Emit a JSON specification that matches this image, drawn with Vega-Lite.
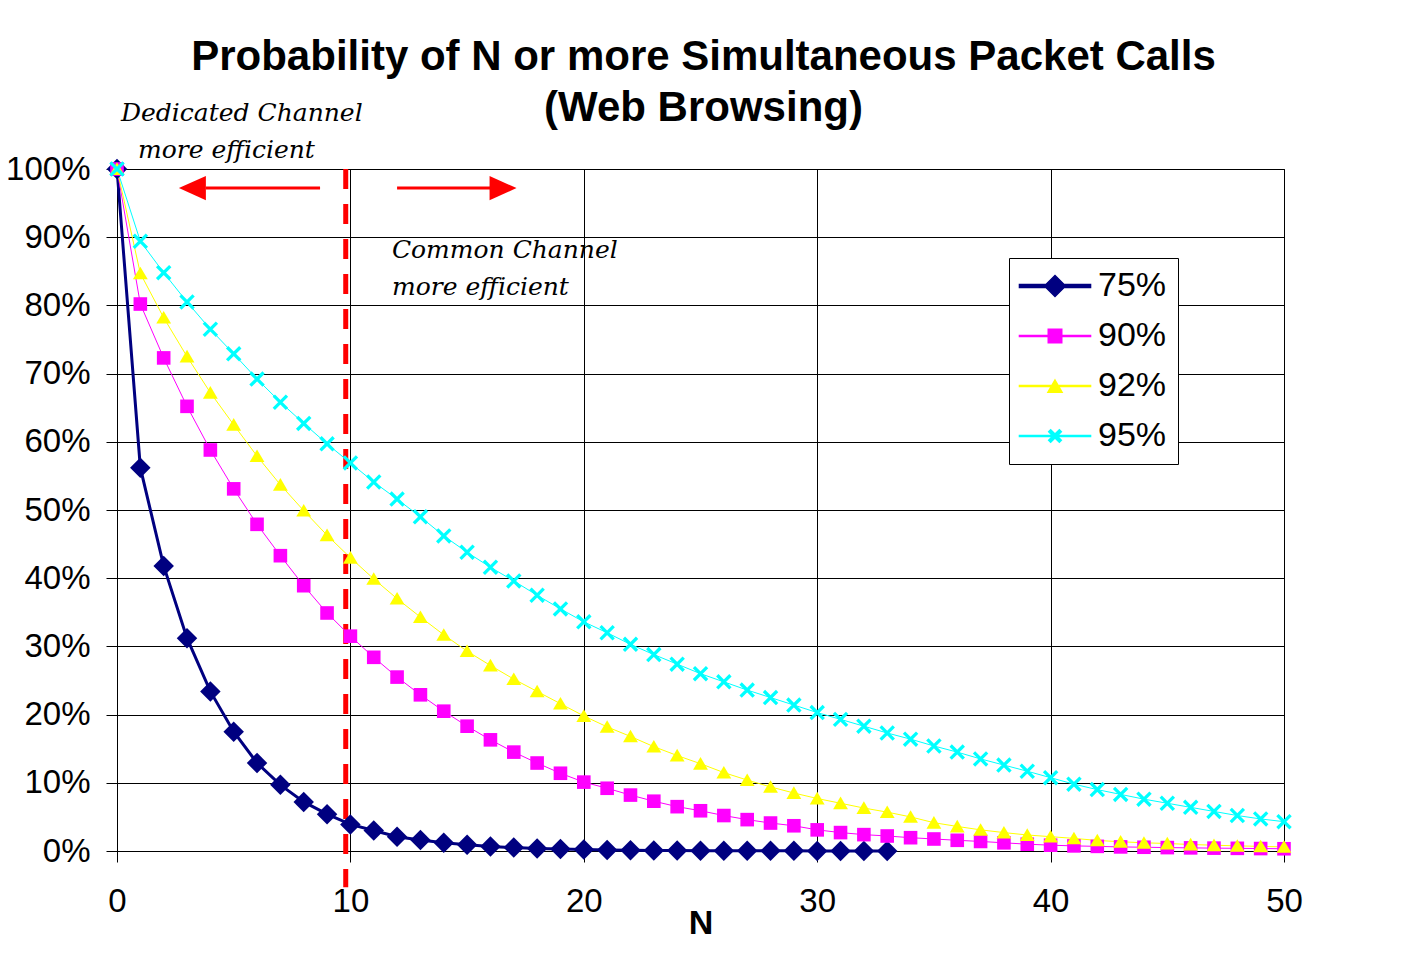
{
  "$schema": "https://vega.github.io/schema/vega-lite/v6.json",
  "width": 1167,
  "height": 682,
  "padding": {"left": 5, "top": 35, "right": 5, "bottom": 5},
  "background": "white",
  "title": {
    "text": ["Probability of N or more Simultaneous Packet Calls", "(Web Browsing)"],
    "font": "Liberation Sans", "fontSize": 42, "fontWeight": "bold", "lineHeight": 51,
    "anchor": "middle", "frame": "group", "offset": -29, "color": "black", "dx": 3
  },
  "config": {
    "view": {"stroke": "black", "strokeWidth": 1},
    "axis": {
      "domainColor": "black", "tickColor": "black", "gridColor": "black", "gridOpacity": 1,
      "labelColor": "black", "labelFont": "Liberation Sans", "titleFont": "Liberation Sans", "titleColor": "black"
    }
  },
  "datasets": {
    "curves": [
      {"N":0,"75%":100,"90%":100,"92%":100,"95%":100},
      {"N":1,"75%":56.2,"90%":80.2,"92%":84.7,"95%":89.4},
      {"N":2,"75%":41.8,"90%":72.3,"92%":78.2,"95%":84.8},
      {"N":3,"75%":31.2,"90%":65.2,"92%":72.5,"95%":80.5},
      {"N":4,"75%":23.4,"90%":58.8,"92%":67.2,"95%":76.5},
      {"N":5,"75%":17.5,"90%":53.1,"92%":62.5,"95%":72.9},
      {"N":6,"75%":12.9,"90%":47.9,"92%":57.9,"95%":69.2},
      {"N":7,"75%":9.7,"90%":43.3,"92%":53.7,"95%":65.8},
      {"N":8,"75%":7.2,"90%":38.9,"92%":49.9,"95%":62.7},
      {"N":9,"75%":5.4,"90%":34.9,"92%":46.3,"95%":59.7},
      {"N":10,"75%":3.9,"90%":31.5,"92%":43.0,"95%":56.9},
      {"N":11,"75%":3.0,"90%":28.4,"92%":39.9,"95%":54.1},
      {"N":12,"75%":2.1,"90%":25.5,"92%":37.0,"95%":51.6},
      {"N":13,"75%":1.6,"90%":22.9,"92%":34.3,"95%":49.0},
      {"N":14,"75%":1.2,"90%":20.5,"92%":31.7,"95%":46.2},
      {"N":15,"75%":0.9,"90%":18.3,"92%":29.3,"95%":43.8},
      {"N":16,"75%":0.65,"90%":16.3,"92%":27.2,"95%":41.6},
      {"N":17,"75%":0.5,"90%":14.5,"92%":25.2,"95%":39.6},
      {"N":18,"75%":0.38,"90%":12.9,"92%":23.4,"95%":37.5},
      {"N":19,"75%":0.28,"90%":11.4,"92%":21.6,"95%":35.5},
      {"N":20,"75%":0.21,"90%":10.1,"92%":19.8,"95%":33.6},
      {"N":21,"75%":0.16,"90%":9.2,"92%":18.2,"95%":32.0},
      {"N":22,"75%":0.12,"90%":8.2,"92%":16.8,"95%":30.3},
      {"N":23,"75%":0.09,"90%":7.3,"92%":15.3,"95%":28.8},
      {"N":24,"75%":0.07,"90%":6.5,"92%":14.0,"95%":27.4},
      {"N":25,"75%":0.05,"90%":5.9,"92%":12.8,"95%":26.0},
      {"N":26,"75%":0.04,"90%":5.2,"92%":11.5,"95%":24.8},
      {"N":27,"75%":0.03,"90%":4.6,"92%":10.4,"95%":23.6},
      {"N":28,"75%":0.02,"90%":4.1,"92%":9.4,"95%":22.5},
      {"N":29,"75%":0.02,"90%":3.7,"92%":8.5,"95%":21.4},
      {"N":30,"75%":0.01,"90%":3.1,"92%":7.7,"95%":20.3},
      {"N":31,"75%":0.01,"90%":2.7,"92%":7.0,"95%":19.3},
      {"N":32,"75%":0.01,"90%":2.4,"92%":6.3,"95%":18.3},
      {"N":33,"75%":0.0,"90%":2.2,"92%":5.7,"95%":17.3},
      {"N":34,"90%":1.95,"92%":5.0,"95%":16.4},
      {"N":35,"90%":1.76,"92%":4.15,"95%":15.4},
      {"N":36,"90%":1.57,"92%":3.6,"95%":14.5},
      {"N":37,"90%":1.4,"92%":3.1,"95%":13.5},
      {"N":38,"90%":1.2,"92%":2.7,"95%":12.6},
      {"N":39,"90%":1.0,"92%":2.35,"95%":11.7},
      {"N":40,"90%":0.85,"92%":2.1,"95%":10.75},
      {"N":41,"90%":0.75,"92%":1.85,"95%":9.8},
      {"N":42,"90%":0.68,"92%":1.55,"95%":9.0},
      {"N":43,"90%":0.6,"92%":1.36,"95%":8.3},
      {"N":44,"90%":0.55,"92%":1.2,"95%":7.6},
      {"N":45,"90%":0.5,"92%":1.1,"95%":7.0},
      {"N":46,"90%":0.46,"92%":0.95,"95%":6.4},
      {"N":47,"90%":0.42,"92%":0.85,"95%":5.8},
      {"N":48,"90%":0.39,"92%":0.75,"95%":5.2},
      {"N":49,"90%":0.36,"92%":0.68,"95%":4.7},
      {"N":50,"90%":0.33,"92%":0.6,"95%":4.3}
    ],
    "divider": [{"N": 9.8, "value": 100, "value2": -5.3}],
    "shafts": [{"N": 3.8, "N2": 8.7, "value": 97.2}, {"N": 12.0, "N2": 16.0, "value": 97.2}],
    "headLeft": [{"N": 3.23, "value": 97.2}],
    "headRight": [{"N": 16.54, "value": 97.2}],
    "notes": [
      {"N": 0.17, "value": 107.04, "label": "Dedicated Channel"},
      {"N": 0.9, "value": 101.61, "label": "more efficient"},
      {"N": 11.78, "value": 86.95, "label": "Common Channel"},
      {"N": 11.78, "value": 81.52, "label": "more efficient"}
    ]
  },
  "layer": [
    {
      "data": {"name": "divider"},
      "mark": {"type": "rule", "color": "#ff0000", "strokeWidth": 5, "strokeDash": [20, 15]},
      "encoding": {
        "x": {"field": "N", "type": "quantitative"},
        "y": {"field": "value", "type": "quantitative"},
        "y2": {"field": "value2"}
      }
    },
    {
      "data": {"name": "curves"},
      "transform": [
        {"fold": ["75%", "90%", "92%", "95%"], "as": ["series", "value"]},
        {"filter": "isValid(datum.value)"}
      ],
      "layer": [
        {
          "transform": [{"filter": "datum.series === '75%'"}],
          "mark": {"type": "line", "strokeWidth": 3},
          "encoding": {
            "x": {
              "field": "N", "type": "quantitative",
              "scale": {"domain": [0, 50], "nice": false, "zero": false},
              "axis": {
                "values": [0, 10, 20, 30, 40, 50], "title": "N", "titleFontSize": 34, "titleFontWeight": "bold",
                "titlePadding": -12, "labelFontSize": 33, "labelPadding": 23.6, "tickSize": 11,
                "grid": true, "labelFlush": false, "labelOverlap": false
              }
            },
            "y": {
              "field": "value", "type": "quantitative",
              "scale": {"domain": [0, 100], "nice": false},
              "axis": {
                "values": [0, 10, 20, 30, 40, 50, 60, 70, 80, 90, 100], "labelExpr": "datum.value + '%'",
                "title": null, "labelFontSize": 33, "labelPadding": 16, "tickSize": 11, "grid": true, "labelOverlap": false
              }
            },
            "color": {
              "field": "series", "type": "nominal",
              "scale": {"domain": ["75%", "90%", "92%", "95%"], "range": ["#000080", "#ff00ff", "#ffff00", "#00ffff"]},
              "legend": {
                "title": null, "orient": "none", "legendX": 892, "legendY": 89,
                "padding": 11, "strokeColor": "black", "fillColor": "white",
                "labelFontSize": 34, "labelFont": "Liberation Sans", "labelColor": "black",
                "symbolSize": 900, "symbolOffset": 18, "labelOffset": 26, "rowPadding": 16, "symbolOpacity": 1
              }
            }
          }
        },
        {
          "transform": [{"filter": "datum.series !== '75%'"}],
          "mark": {"type": "line", "strokeWidth": 1},
          "encoding": {
            "x": {"field": "N", "type": "quantitative"},
            "y": {"field": "value", "type": "quantitative"},
            "color": {"field": "series", "type": "nominal"}
          }
        },
        {
          "transform": [{"filter": "false"}],
          "mark": {"type": "point", "filled": true, "size": 900, "opacity": 1},
          "encoding": {
            "x": {"field": "N", "type": "quantitative"},
            "y": {"field": "value", "type": "quantitative"},
            "color": {"field": "series", "type": "nominal"},
            "shape": {
              "field": "series", "type": "nominal",
              "scale": {
                "domain": ["75%", "90%", "92%", "95%"],
                "range": [
                  "M-2.37,-0.1L2.37,-0.1L2.37,0.1L-2.37,0.1ZM0,-0.7L0.7,0L0,0.7L-0.7,0Z",
                  "M-2.37,-0.035L2.37,-0.035L2.37,0.035L-2.37,0.035ZM-0.45,-0.45L0.45,-0.45L0.45,0.45L-0.45,0.45Z",
                  "M-2.37,-0.035L2.37,-0.035L2.37,0.035L-2.37,0.035ZM0,-0.4L0.47,0.42L-0.47,0.42Z",
                  "M-2.37,-0.035L2.37,-0.035L2.37,0.035L-2.37,0.035ZM-0.29,-0.42L0.42,0.29L0.29,0.42L-0.42,-0.29ZM0.29,-0.42L0.42,-0.29L-0.29,0.42L-0.42,0.29Z"
                ]
              },
              "legend": {
                "title": null, "orient": "none", "legendX": 892, "legendY": 89,
                "padding": 11, "strokeColor": "black", "fillColor": "white",
                "labelFontSize": 34, "labelFont": "Liberation Sans", "labelColor": "black",
                "symbolSize": 900, "symbolOffset": 18, "labelOffset": 26, "rowPadding": 16, "symbolOpacity": 1
              }
            }
          }
        },
        {
          "transform": [{"filter": "datum.series === '75%'"}],
          "mark": {"type": "point", "shape": "M0,-1L1,0L0,1L-1,0Z", "size": 420, "filled": true, "opacity": 1, "color": "#000080"},
          "encoding": {
            "x": {"field": "N", "type": "quantitative"},
            "y": {"field": "value", "type": "quantitative"}
          }
        },
        {
          "transform": [{"filter": "datum.series === '90%'"}],
          "mark": {"type": "point", "shape": "M-1,-1L1,-1L1,1L-1,1Z", "size": 185, "filled": true, "opacity": 1, "color": "#ff00ff"},
          "encoding": {
            "x": {"field": "N", "type": "quantitative"},
            "y": {"field": "value", "type": "quantitative"}
          }
        },
        {
          "transform": [{"filter": "datum.series === '92%'"}],
          "mark": {"type": "point", "shape": "M0,-0.9L1,0.8L-1,0.8Z", "size": 220, "filled": true, "opacity": 1, "color": "#ffff00"},
          "encoding": {
            "x": {"field": "N", "type": "quantitative"},
            "y": {"field": "value", "type": "quantitative"}
          }
        },
        {
          "transform": [{"filter": "datum.series === '95%'"}],
          "mark": {"type": "point", "shape": "M-0.7,-1L1,0.7L0.7,1L-1,-0.7ZM0.7,-1L1,-0.7L-0.7,1L-1,0.7Z", "size": 240, "filled": true, "opacity": 1, "color": "#00ffff"},
          "encoding": {
            "x": {"field": "N", "type": "quantitative"},
            "y": {"field": "value", "type": "quantitative"}
          }
        }
      ]
    },
    {
      "data": {"name": "shafts"},
      "mark": {"type": "rule", "color": "#ff0000", "strokeWidth": 3},
      "encoding": {
        "x": {"field": "N", "type": "quantitative"},
        "x2": {"field": "N2"},
        "y": {"field": "value", "type": "quantitative"}
      }
    },
    {
      "data": {"name": "headLeft"},
      "mark": {"type": "point", "shape": "M-1,0L1,-0.9L1,0.9Z", "filled": true, "color": "#ff0000", "size": 729, "opacity": 1},
      "encoding": {
        "x": {"field": "N", "type": "quantitative"},
        "y": {"field": "value", "type": "quantitative"}
      }
    },
    {
      "data": {"name": "headRight"},
      "mark": {"type": "point", "shape": "M1,0L-1,-0.9L-1,0.9Z", "filled": true, "color": "#ff0000", "size": 729, "opacity": 1},
      "encoding": {
        "x": {"field": "N", "type": "quantitative"},
        "y": {"field": "value", "type": "quantitative"}
      }
    },
    {
      "data": {"name": "notes"},
      "mark": {"type": "text", "align": "left", "baseline": "alphabetic", "font": "DejaVu Serif", "fontStyle": "italic", "fontSize": 25, "color": "black"},
      "encoding": {
        "x": {"field": "N", "type": "quantitative"},
        "y": {"field": "value", "type": "quantitative"},
        "text": {"field": "label", "type": "nominal"}
      }
    }
  ]
}
